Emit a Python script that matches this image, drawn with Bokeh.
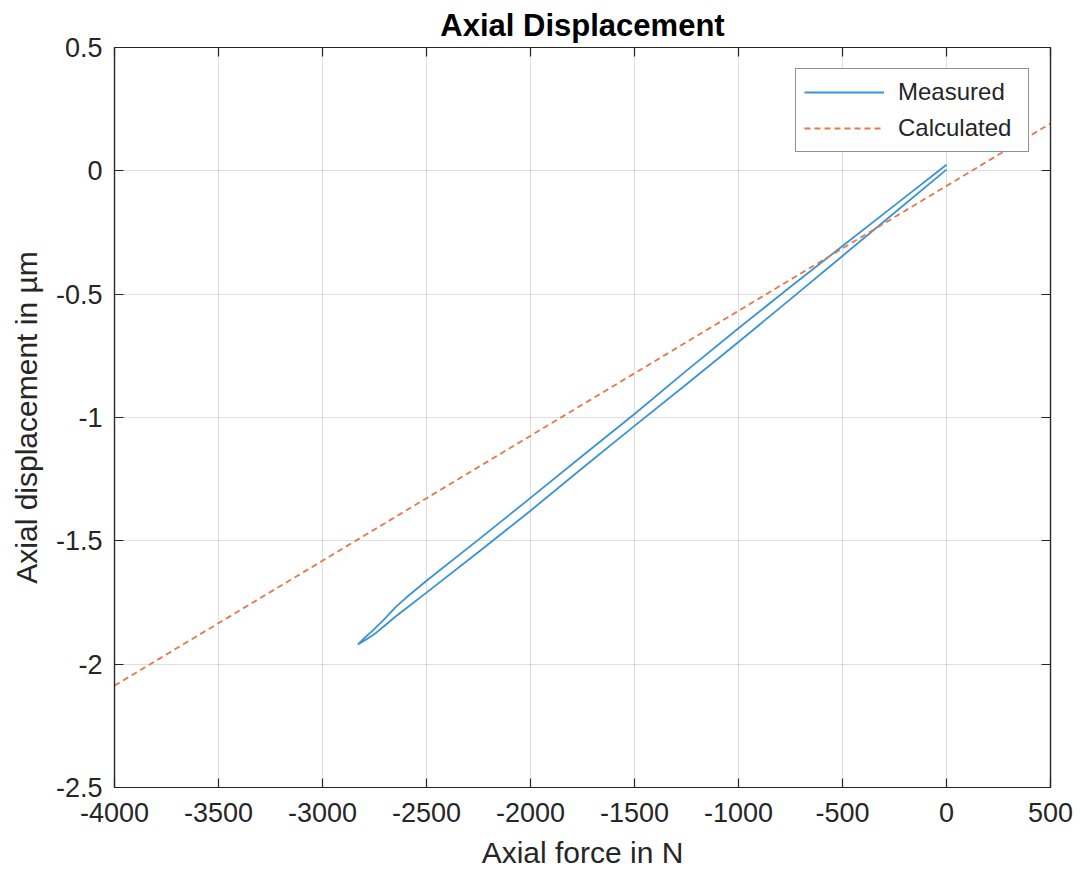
from bokeh.plotting import figure
from bokeh.models import LinearAxis, FixedTicker, Range1d, Legend, LegendItem
from bokeh.embed import file_html
from bokeh.resources import INLINE

# ---- data ----
x_ticks = [-4000, -3500, -3000, -2500, -2000, -1500, -1000, -500, 0, 500]
x_tick_labels = ["-4000", "-3500", "-3000", "-2500", "-2000", "-1500", "-1000", "-500", "0", "500"]
y_ticks = [-2.5, -2.0, -1.5, -1.0, -0.5, 0.0, 0.5]
y_tick_labels = ["-2.5", "-2", "-1.5", "-1", "-0.5", "0", "0.5"]

# Measured: loading branch (lower) then unloading branch (upper)
lower_force = [0, -250, -500, -750, -1000, -1250, -1500, -1750, -2000, -2250, -2500,
               -2600, -2650, -2700, -2750, -2790, -2830]
lower_disp = [0.005, -0.17, -0.345, -0.52, -0.694, -0.865, -1.034, -1.205, -1.378, -1.545, -1.71,
              -1.775, -1.808, -1.843, -1.878, -1.90, -1.92]
upper_force = [-2830, -2800, -2760, -2700, -2650, -2600, -2500, -2250, -2000, -1750, -1500,
               -1250, -1000, -750, -500, -250, 0]
upper_disp = [-1.92, -1.895, -1.865, -1.815, -1.77, -1.732, -1.662, -1.495, -1.326, -1.155, -0.986,
              -0.81, -0.638, -0.47, -0.305, -0.14, 0.025]

# Calculated: straight line across the whole range
calc_force = [-4000, 500]
calc_disp = [-2.087, 0.192]

# ---- styling ----
AX = "#262626"
FONT = "Liberation Sans"

p = figure(width=1080, height=877, output_backend="svg", toolbar_location=None,
           x_range=Range1d(-4000, 500), y_range=Range1d(-2.5, 0.5),
           min_border_left=114, min_border_right=30, min_border_top=46, min_border_bottom=90,
           background_fill_color="white", border_fill_color="white")

p.title.text = "Axial Displacement"
p.title.text_font = FONT
p.title.text_font_size = "31px"
p.title.text_font_style = "bold"
p.title.text_color = "black"
p.title.align = "center"

p.outline_line_color = AX
p.outline_line_width = 1.2

def style_axis(ax, ticks, labels, show_labels=True):
    ax.ticker = FixedTicker(ticks=ticks)
    ax.major_tick_in = 9
    ax.major_tick_out = 0
    ax.minor_tick_line_color = None
    ax.major_tick_line_color = AX
    ax.major_tick_line_width = 1.2
    ax.axis_line_color = AX
    ax.axis_line_width = 1.2
    ax.major_label_text_font = FONT
    if show_labels:
        ax.major_label_overrides = {t: l for t, l in zip(ticks, labels)}
        ax.major_label_text_color = AX
        ax.major_label_text_font_size = "27px"
    else:
        ax.major_label_text_color = None
        ax.major_label_text_font_size = "1px"
        ax.major_label_standoff = 0

xa = p.xaxis[0]
style_axis(xa, x_ticks, x_tick_labels)
xa.major_label_standoff = 15
xa.axis_label = "Axial force in N"
xa.axis_label_text_font = FONT
xa.axis_label_text_font_size = "30px"
xa.axis_label_text_font_style = "normal"
xa.axis_label_text_color = AX
xa.axis_label_standoff = 11

ya = p.yaxis[0]
style_axis(ya, y_ticks, y_tick_labels)
ya.major_label_standoff = 12
ya.axis_label = "Axial displacement in µm"
ya.axis_label_text_font = FONT
ya.axis_label_text_font_size = "30px"
ya.axis_label_text_font_style = "normal"
ya.axis_label_text_color = AX
ya.axis_label_standoff = 10

top_ax = LinearAxis()
style_axis(top_ax, x_ticks, x_tick_labels, show_labels=False)
p.add_layout(top_ax, "above")
right_ax = LinearAxis()
style_axis(right_ax, y_ticks, y_tick_labels, show_labels=False)
p.add_layout(right_ax, "right")

p.xgrid.ticker = FixedTicker(ticks=x_ticks)
p.ygrid.ticker = FixedTicker(ticks=y_ticks)
for g in (p.xgrid[0], p.ygrid[0]):
    g.grid_line_color = AX
    g.grid_line_alpha = 0.15
    g.grid_line_width = 1.2

meas_force = lower_force + upper_force
meas_disp = lower_disp + upper_disp
r_meas = p.line(meas_force, meas_disp, line_color="#3a93d4", line_width=1.8)
r_calc = p.line(calc_force, calc_disp, line_color="#e5784a", line_width=1.8, line_dash="6 4")

legend = Legend(items=[LegendItem(label="Measured", renderers=[r_meas]),
                       LegendItem(label="Calculated", renderers=[r_calc])],
                location="top_right")
legend.label_text_font = FONT
legend.label_text_font_size = "24px"
legend.label_text_color = AX
legend.glyph_width = 80
legend.label_standoff = 14
legend.label_width = 122
legend.label_height = 30
legend.glyph_height = 30
legend.padding = 8
legend.spacing = 6
legend.margin = 21
legend.border_line_color = AX
legend.border_line_width = 1.2
legend.background_fill_color = "white"
legend.background_fill_alpha = 1.0
p.add_layout(legend, "center")

open("out.html", "w").write(file_html(p, INLINE))
